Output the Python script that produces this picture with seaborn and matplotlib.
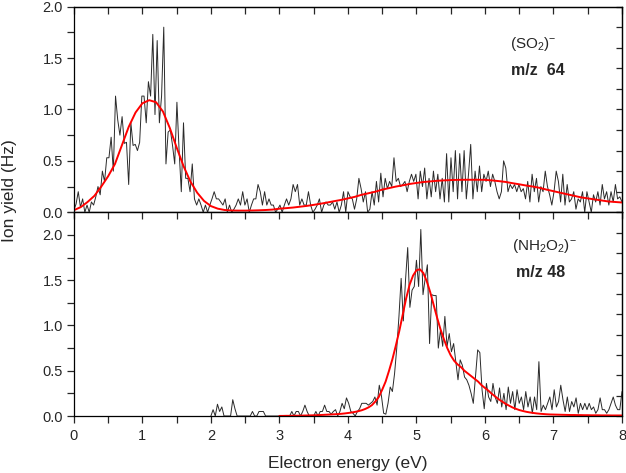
import numpy as np
import pandas as pd
import matplotlib
matplotlib.use('Agg')
import matplotlib.pyplot as plt
from matplotlib.ticker import MultipleLocator
import seaborn as sns

# --- SO2- (m/z 64), measured on a 0-8 eV grid (251 points)
so2_yield = [
    .02, .08, .2, .05, .13, .0, .07, 0, .1, .07,
    .15, .25, .17, .4, .3, .53, .53, .73, .4, 1.13,
    .9, .75, .93, .67, .68, .27, .87, .65, .66, .6,
    .68, 1.13, 1.13, .87, 1.27, 1.13, 1.73, .95, 1.67, .87,
    1.13, 1.8, .47, .78, .8, .65, .47, 1.07, .6, .2,
    .87, .33, .33, .2, .47, .13, .07, .13, .07, 0,
    .07, 0, .07,
    .13, .2, .13, .13, .1, .07, .13, 0, .07, 0,
    .03, .07, .13, .07, .2, .07, .13, 0, .07, .13,
    .13, .27, .2, .07, .2, .07, .13, .07, .07, 0,
    .03, .07, 0, .07, .13, .07, .13, .27, .2, .27,
    .07, .13, .07, .07, .2, .07, 0, .03, .07, .13,
    0, .07, .1, .07,
    .07, .1, .03, .1, 0, .07, .2, 0, .2, .15,
    .13, .03, .13, .33, .23, .1, .2, 0, .03, .2,
    .07, .3, .1, .38, .15, .33, .23, .3, .25, .53,
    .3, .33, .25, .27, .3, .2, .3, .37, .3, .37,
    .13, .4, .25, .43, .13, .33, .15, .4, .2, .37,
    .13, .33, .1, .57, .1, .53, .2, .6, .13, .57,
    .2, .6, .13, .37, .66, .13, .4, .2, .45, .2,
    .37, .3, .4, .25, .37, .3, .2, .13, .2, .5,
    .43, .2, .27, .23, .27, .2, .27, .2, .23, .13,
    .3, .1, .37, .2, .33, .1, .25, .2, .4, .25,
    .17, .07, .2, .4, .3, .1, .37, .07, .27, .1,
    .13, .2, .03, .13, .1, .2, 0, .2, .1, 0,
    .17, .1, .2, .07, .27, .13, .2, .07, .2, .1,
    .27, .13, .15, .1,
]
so2_energy = np.linspace(0, 8, len(so2_yield))

# fit curve for SO2-, read every 0.1 eV
so2_fit = [
    .02, .05, .1, .16, .25, .35, .47, .65, .83, .97,
    1.06, 1.09, 1.07, .98, .82, .63, .45, .3, .19, .11,
    .06, .035, .022, .017, .016, .016, .017, .019, .022, .026,
    .035, .04, .046, .054, .062, .072, .083, .095, .108, .12,
    .135, .15, .17, .185, .2, .22, .235, .25, .262, .275,
    .285, .294, .3, .306, .31, .313, .315, .316, .316, .316,
    .315, .31, .303, .295, .283, .272, .26, .25, .237, .22,
    .205, .19, .175, .16, .145, .135, .125, .115, .105, .1, .095,
]
so2_fit_energy = np.linspace(0, 8, len(so2_fit))

# --- NH2O2- (m/z 48), measured from 2 to 8 eV (189 points)
nh2o2_yield = [
    0, .07, 0, .13, .05, .1, 0, 0, 0, 0,
    .18, .08, 0, 0, 0, 0, 0, 0, 0, .05,
    0, 0, .05, .05, .05, 0, 0, 0, 0, 0,
    0, 0, 0, 0, 0, 0, 0, .05, 0, .05,
    .05, 0, .05, .12, .05, 0, 0, 0, .05, 0,
    .05, .05, .12, .05, .05, .02, .05, .07, 0, .05,
    .14, .08, .2, .14, .05, .03, 0, .05, .08, .14,
    .14, .14, .12, .14, .16, .21, .12, .34, .22, .03,
    .02, .14, .32, .27, .47, .75, 1.1, 1.52, 1.05, 1.5,
    1.86, 1.2, 1.39, 1.43, 1.72, 1.43, 2.06, 1.34, 1.52, 1.67,
    .8, 1.34, 1.33, 1.33, .75, .95, .77, 1.1, .77, .91,
    .71, .8, .6, .4, .62, .56, .43, .4, .34, .25,
    .14, .43, .73, .7, .29, .08, .36, .21, .16, .36,
    .21, .14, .31, .1, .25, .07, .32, .14, .27, .07,
    .29, .14, .21, .07, .27, .1, .21, .03, .21, .07,
    .6, .05, .12, .07, .14, .21, .07, .29, .1, .16,
    .34, .18, .05, .21, .05, .16, .1, .2, .03, .14,
    .07, .14, .07, .14, .07, .1, .03, .07, .2, .07,
    .07, .03, .07, .14, .21, .12, .07, .07, .27,
]
nh2o2_energy = np.linspace(2, 8, len(nh2o2_yield))

# fit curve for NH2O2-, read every 0.05 eV from 3 eV
nh2o2_fit = [
    .001, .001, .002, .002, .003, .003, .004, .005, .006, .007,
    .008, .009, .011, .013, .015, .017, .019, .021, .024, .028,
    .033, .038, .045, .053, .063, .077, .095, .12, .16, .21,
    .29, .38, .5, .63, .78, .94, 1.12, 1.3, 1.45, 1.55,
    1.61, 1.62, 1.58, 1.49, 1.37, 1.23, 1.09, .96, .85, .75,
    .67, .61, .57, .54, .5, .47, .44, .41, .38, .34,
    .31, .28, .245, .215, .185, .16, .135, .115, .095, .08,
    .066, .056, .047, .04, .034, .029, .025, .022, .019, .017,
    .016, .015, .014, .013, .012, .011, .011, .01, .01, .009,
    .009, .008, .008, .008, .007, .007, .007, .006, .006, .006, .006,
]
nh2o2_fit_energy = np.linspace(3, 8, len(nh2o2_fit))

sns.set_style('ticks')
plt.rcParams['font.family'] = ['Liberation Sans', 'DejaVu Sans']
plt.rcParams['mathtext.fontset'] = 'custom'
plt.rcParams['mathtext.rm'] = 'Liberation Sans'
plt.rcParams['mathtext.it'] = 'Liberation Sans:italic'
plt.rcParams['mathtext.bf'] = 'Liberation Sans:bold'

fig, (ax1, ax2) = plt.subplots(2, 1, figsize=(6.26, 4.73), dpi=100, sharex=True,
                               gridspec_kw={'height_ratios': [205.6, 203.7]})
fig.subplots_adjust(left=0.118, right=0.9936, top=0.986, bottom=0.1205, hspace=0)

panels = [
    (ax1, so2_energy, so2_yield, so2_fit_energy, so2_fit, 2.0),
    (ax2, nh2o2_energy, nh2o2_yield, nh2o2_fit_energy, nh2o2_fit, 2.25),
]
for ax, e, y, fe, fy, ymax in panels:
    sns.lineplot(x=e, y=y, ax=ax, color='#2a2a2a', lw=0.7, estimator=None)
    sns.lineplot(x=fe, y=fy, ax=ax, color='#ff0000', lw=1.4, estimator=None)
    ax.set_xlim(0, 8)
    ax.set_ylim(0, ymax)
    ax.set_xlabel('')
    ax.set_ylabel('')
    for s in ax.spines.values():
        s.set_visible(True)
        s.set_linewidth(0.9)
        s.set_color('black')
    ax.yaxis.set_major_locator(MultipleLocator(0.5))
    ax.yaxis.set_minor_locator(MultipleLocator(0.25))
    ax.yaxis.set_major_formatter(matplotlib.ticker.FormatStrFormatter('%.1f'))
    ax.tick_params(axis='y', which='both', direction='out', length=5, width=0.9,
                   labelsize=10.5, pad=3, left=True, right=False)
    # opposite side ticks pointing inward
    sy = ax.secondary_yaxis('right')
    sy.yaxis.set_major_locator(MultipleLocator(ymax / 10))
    sy.tick_params(direction='in', length=4, width=0.9, labelright=False)
    sy.spines['right'].set_linewidth(0.9)
    sx = ax.secondary_xaxis('top')
    sx.xaxis.set_major_locator(MultipleLocator(0.5))
    sx.tick_params(direction='in', length=5, width=0.9, labeltop=False)
    sx.spines['top'].set_linewidth(0.9)

ax1.tick_params(axis='x', which='both', direction='out', length=4, width=0.9,
                bottom=True, labelbottom=False)
ax2.xaxis.set_major_locator(MultipleLocator(1))
ax2.xaxis.set_minor_locator(MultipleLocator(0.5))
ax2.tick_params(axis='x', which='both', direction='out', length=5, width=0.9,
                labelsize=10.5, pad=4, bottom=True, labelbottom=True)

ax1.text(0.796, 0.797, r'(SO$_2$)$^{-}$', transform=ax1.transAxes, fontsize=11)
ax1.text(0.797, 0.668, 'm/z  64', transform=ax1.transAxes, fontsize=11.5, fontweight='bold')
ax2.text(0.799, 0.817, r'(NH$_2$O$_2$)$^{-}$', transform=ax2.transAxes, fontsize=11)
ax2.text(0.807, 0.682, 'm/z 48', transform=ax2.transAxes, fontsize=11.5, fontweight='bold')

fig.text(348 / 626, 5 / 473, 'Electron energy (eV)', ha='center', va='baseline', fontsize=12.5)
fig.text(2 / 626, 1 - 191 / 473, 'Ion yield (Hz)', ha='left', va='center',
         rotation=90, fontsize=12.5)

fig.savefig('out.png', dpi=100)
